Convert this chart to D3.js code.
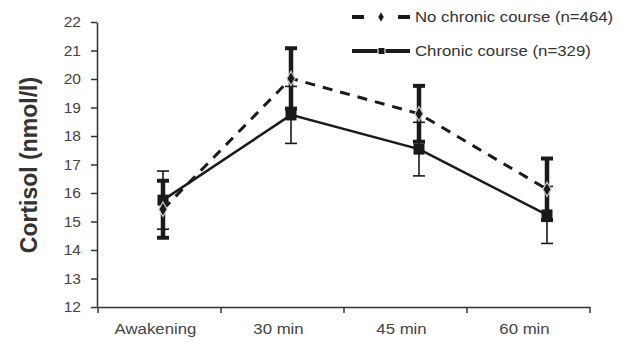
<!DOCTYPE html>
<html>
<head>
<meta charset="utf-8">
<script src="https://cdn.jsdelivr.net/npm/d3@7"></script>
<style>
  body { margin: 0; background: #fff; }
  svg { display: block; font-family: "Liberation Sans", Arial, sans-serif; }
</style>
</head>
<body>
<div id="chart"></div>
<script>
const WIDTH = 624;
const HEIGHT = 346;

const categories = ['Awakening', '30 min', '45 min', '60 min'];
const yTicks = [12, 13, 14, 15, 16, 17, 18, 19, 20, 21, 22];

// no chronic course (dashed, diamonds)
const noChronic = [15.43, 20.02, 18.78, 16.13];
const noChronicErr = [1.0, 1.06, 0.98, 1.08];
// chronic course (solid, squares)
const chronic = [15.75, 18.74, 17.54, 15.23];
const chronicErr = [1.02, 1.0, 0.94, 1.0];

const seriesNames = ['No chronic course (n=464)', 'Chronic course (n=329)'];

const svg = d3
  .select('#chart')
  .append('svg')
  .attr('width', WIDTH)
  .attr('height', HEIGHT);

const yScale = d3.scaleLinear().domain([12, 22]).range([307, 22]);
const xBand = d3.scaleBand().domain(categories).range([98, 590]);
// the plotted points sit a bit right of the band centres in the original
const xPoint = d3.scalePoint().domain(categories).range([163, 547]);

const ink = '#1a1a1a';
const axisCol = '#333';

// y axis
const yAxisG = svg
  .append('g')
  .attr('transform', 'translate(97,0)')
  .call(d3.axisLeft(yScale).tickValues(yTicks).tickSize(6).tickSizeOuter(0));
yAxisG.select('.domain').attr('stroke', axisCol).attr('stroke-width', 1.5);
yAxisG.selectAll('.tick line').attr('stroke', axisCol).attr('stroke-width', 1.5);
yAxisG
  .selectAll('.tick text')
  .attr('fill', '#444')
  .attr('font-size', 15.5)
  .attr('x', -16);

// x axis
const xAxisG = svg
  .append('g')
  .attr('transform', 'translate(0,307)')
  .call(d3.axisBottom(xBand).tickSize(0).tickSizeOuter(0));
xAxisG.select('.domain').attr('stroke', axisCol).attr('stroke-width', 1.5);
xAxisG
  .selectAll('.tick text')
  .attr('fill', '#444')
  .attr('font-size', 15)
  .attr('dy', 0)
  .attr('y', 27)
  .attr('transform', 'translate(-4,0) scale(1.12,1)');
// boundary ticks between bands
xAxisG
  .selectAll('.bound')
  .data([...categories.map((c) => xBand(c)), xBand.range()[1]])
  .join('line')
  .attr('class', 'bound')
  .attr('x1', (d) => d)
  .attr('x2', (d) => d)
  .attr('y1', 0)
  .attr('y2', 6)
  .attr('stroke', axisCol)
  .attr('stroke-width', 1.5);

// y title
svg
  .append('text')
  .attr('transform', 'translate(37,165) rotate(-90)')
  .attr('text-anchor', 'middle')
  .attr('font-size', 23)
  .attr('font-weight', 'bold')
  .attr('fill', '#333')
  .text('Cortisol (nmol/l)');

const line = d3
  .line()
  .x((d, i) => xPoint(categories[i]))
  .y((d) => yScale(d));

// lines
svg
  .append('path')
  .datum(noChronic)
  .attr('fill', 'none')
  .attr('stroke', ink)
  .attr('stroke-width', 3)
  .attr('stroke-dasharray', '10,8')
  .attr('d', line);

svg
  .append('path')
  .datum(chronic)
  .attr('fill', 'none')
  .attr('stroke', ink)
  .attr('stroke-width', 2.5)
  .attr('d', line);

// error bars: chronic (thin) first, thick ones on top
function errorBars(values, errs, width, capH) {
  const g = svg.append('g');
  values.forEach((v, i) => {
    const x = xPoint(categories[i]);
    g.append('line')
      .attr('x1', x)
      .attr('x2', x)
      .attr('y1', yScale(v - errs[i]))
      .attr('y2', yScale(v + errs[i]))
      .attr('stroke', ink)
      .attr('stroke-width', width);
    [v - errs[i], v + errs[i]].forEach((e) => {
      g.append('line')
        .attr('x1', x - 6)
        .attr('x2', x + 6)
        .attr('y1', yScale(e))
        .attr('y2', yScale(e))
        .attr('stroke', ink)
        .attr('stroke-width', capH);
    });
  });
}
errorBars(chronic, chronicErr, 1.6, 1.6);
errorBars(noChronic, noChronicErr, 4.5, 4);

// markers
svg
  .selectAll('.sq')
  .data(chronic)
  .join('rect')
  .attr('class', 'sq')
  .attr('x', (d, i) => xPoint(categories[i]) - 5.5)
  .attr('y', (d) => yScale(d) - 5.5)
  .attr('width', 11)
  .attr('height', 11)
  .attr('fill', ink);

const diamond = d3.symbol().type(d3.symbolDiamond).size(60);
svg
  .selectAll('.dm')
  .data(noChronic)
  .join('path')
  .attr('class', 'dm')
  .attr('transform', (d, i) => `translate(${xPoint(categories[i])},${yScale(d)})`)
  .attr('d', diamond)
  .attr('fill', ink)
  .attr('stroke', '#ccc')
  .attr('stroke-width', 1.2);

// legend
const legend = svg.append('g');
const legY = [17, 51];

legend
  .append('line')
  .attr('x1', 352)
  .attr('x2', 410)
  .attr('y1', legY[0])
  .attr('y2', legY[0])
  .attr('stroke', ink)
  .attr('stroke-width', 4)
  .attr('stroke-dasharray', '12,34,12');
legend
  .append('path')
  .attr('transform', `translate(381,${legY[0]})`)
  .attr('d', d3.symbol().type(d3.symbolDiamond).size(26))
  .attr('fill', ink);

legend
  .append('line')
  .attr('x1', 352)
  .attr('x2', 410)
  .attr('y1', legY[1])
  .attr('y2', legY[1])
  .attr('stroke', ink)
  .attr('stroke-width', 4);
legend
  .append('rect')
  .attr('x', 378)
  .attr('y', legY[1] - 3.5)
  .attr('width', 7)
  .attr('height', 7)
  .attr('fill', ink)
  .attr('stroke', '#fff')
  .attr('stroke-width', 1);

legend
  .selectAll('text')
  .data(seriesNames)
  .join('text')
  .attr('x', 0)
  .attr('y', 0)
  .attr('transform', (d, i) => `translate(415,${legY[i] + 5}) scale(1.12,1)`)
  .attr('font-size', 15)
  .attr('fill', '#333')
  .text((d) => d);
</script>
</body>
</html>
